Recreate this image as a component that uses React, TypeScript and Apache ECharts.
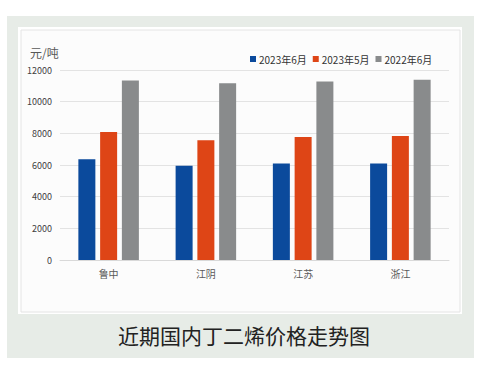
import React, { useEffect, useRef } from "react";
import * as echarts from "echarts";

const categories = ["鲁中", "江阴", "江苏", "浙江"];
const seriesNames = ["2023年6月", "2023年5月", "2022年6月"];
const jun2023 = [6360, 5960, 6100, 6100];
const may2023 = [8080, 7560, 7770, 7830];
const jun2022 = [11330, 11160, 11280, 11390];
const colors = ["#0b4a9c", "#de4516", "#898b8c"];
const titleText = "近期国内丁二烯价格走势图";

export default function App() {
  const ref = useRef<HTMLDivElement>(null);
  useEffect(() => {
    if (!ref.current) return;
    const chart = echarts.init(ref.current, undefined, { renderer: "svg" });
    const font = "'Noto Sans CJK SC', 'Noto Sans', sans-serif";
    chart.setOption({
      animation: false,
      backgroundColor: "#ffffff",
      graphic: [
        { type: "rect", z: -10, shape: { x: 7, y: 16, width: 467, height: 342 }, style: { fill: "#e7ece7" }, silent: true },
        { type: "rect", z: -9, shape: { x: 18, y: 27, width: 444, height: 287 }, style: { fill: "#ffffff" }, silent: true },
        { type: "rect", z: -8, shape: { x: 21, y: 30, width: 439, height: 282 }, style: { fill: "#fcfcfc", stroke: "#e4e4e4", lineWidth: 1 }, silent: true },
      ],
      title: {
        text: titleText,
        left: "center",
        top: 319,
        textStyle: { fontFamily: font, fontSize: 21, fontWeight: "normal", color: "#222222" },
      },
      color: colors,
      legend: {
        data: seriesNames,
        top: 49,
        left: 245,
        itemWidth: 6,
        itemHeight: 6,
        itemGap: 6,
        icon: "rect",
        textStyle: { fontFamily: font, fontSize: 10, color: "#333333", padding: [0, 0, 0, -2] },
      },
      grid: { left: 60, right: 39, top: 70, bottom: 121, containLabel: false },
      xAxis: {
        type: "category",
        data: categories,
        axisLine: { lineStyle: { color: "#d9d9d9" } },
        axisTick: { show: false },
        axisLabel: { fontFamily: font, fontSize: 10, color: "#595959", margin: 8 },
      },
      yAxis: {
        type: "value",
        min: 0,
        max: 12000,
        interval: 2000,
        name: "元/吨",
        nameLocation: "end",
        nameGap: 12,
        nameTextStyle: { fontFamily: font, fontSize: 12, color: "#595959", align: "left", padding: [0, 0, 0, -30] },
        axisLine: { show: false },
        axisTick: { show: false },
        splitLine: { lineStyle: { color: "#e3e3e3" } },
        axisLabel: { fontFamily: font, fontSize: 9, color: "#404040", margin: 8, formatter: (v: number) => String(v) },
      },
      series: [
        { name: seriesNames[0], type: "bar", data: jun2023, barWidth: 17, barGap: "28%" },
        { name: seriesNames[1], type: "bar", data: may2023, barWidth: 17, barGap: "28%" },
        { name: seriesNames[2], type: "bar", data: jun2022, barWidth: 17, barGap: "28%" },
      ],
    });
    return () => chart.dispose();
  }, []);
  return <div ref={ref} style={{ position: "fixed", left: 0, top: 0, width: 488, height: 381 }} />;
}
